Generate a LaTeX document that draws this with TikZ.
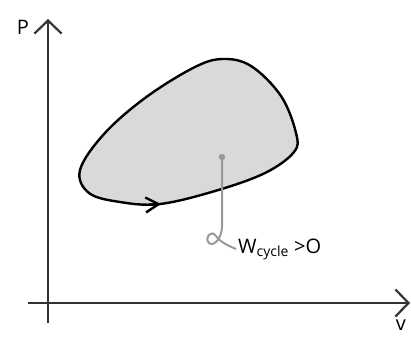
\documentclass[tikz,border=0pt]{standalone}
\usepackage{fontspec}
\setmainfont{Open Sans}
\usetikzlibrary{arrows.meta}
\begin{document}
\begin{tikzpicture}[x=1pt,y=-1pt,
  axis/.style={line width=2.2pt,draw=black!80,-{Straight Barb[length=13pt,width=27pt,line width=2.2pt]}},
  loop/.style={line width=2.4pt,fill=black!15,draw=black},
  pointer/.style={line width=2pt,draw=black!40},
  lbl/.style={font=\fontsize{20}{24}\selectfont,inner sep=0pt}]
\useasboundingbox (0,0) rectangle (411,338);
\coordinate (o) at (48,303);
\coordinate (ytop) at (48,19);
\coordinate (ybot) at (48,323);
\coordinate (xleft) at (28,303);
\coordinate (xright) at (410,303);
\draw[axis] (ybot)--(ytop);
\draw[axis] (xleft)--(xright);
\node[lbl] (p) at (23,27) {P};
\node[lbl] (v) at (401,325) {v};

\draw[loop] plot[smooth cycle,tension=0.6] coordinates {(160,204) (215,191) (265,173) (294,152) (296,133) (281,96) (251,66) (222,59) (193,68) (145,98) (104,134) (80,170) (89,193) (120,202)};
\coordinate (a1) at (148,204.8);
\coordinate (a2) at (161,204);
\draw[line width=2.4pt,-{Straight Barb[length=13pt,width=15pt,line width=2.4pt]}] (a1)--(a2);

\fill[black!40] (222,157) circle (3.2pt);
\coordinate (dot) at (222,157);
\coordinate (bend) at (222,226);
\coordinate (tail) at (236,249);
\draw[pointer] (dot)--(bend) .. controls (222,238) and (214,247) .. (209,243) .. controls (204,238) and (211,229) .. (216,236) .. controls (220,242) and (229,246) .. (tail);
\node[lbl,anchor=base west] (w) at (238,253) {W\textsubscript{cycle} >O};
\end{tikzpicture}
\end{document}
